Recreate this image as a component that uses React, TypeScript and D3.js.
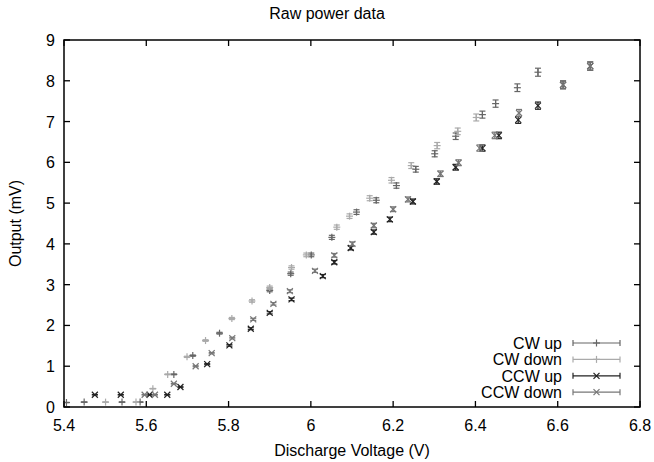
import React, { useEffect, useRef } from 'react';
import * as d3 from 'd3';

// voltage (V), output (mV) for each run
const cwUpX = [5.406, 5.449, 5.541, 5.585, 5.667, 5.713, 5.778, 5.900, 5.951, 6.001, 6.051, 6.111, 6.159, 6.208, 6.255, 6.301, 6.352, 6.417, 6.449, 6.502, 6.552];
const cwUpY = [0.11, 0.12, 0.12, 0.12, 0.80, 1.26, 1.81, 2.86, 3.27, 3.73, 4.16, 4.78, 5.07, 5.43, 5.83, 6.21, 6.64, 7.17, 7.44, 7.83, 8.21];

const cwDownX = [5.501, 5.575, 5.616, 5.652, 5.699, 5.744, 5.808, 5.857, 5.900, 5.953, 5.989, 6.063, 6.094, 6.143, 6.196, 6.244, 6.307, 6.357, 6.402];
const cwDownY = [0.12, 0.12, 0.45, 0.80, 1.23, 1.63, 2.17, 2.60, 2.93, 3.42, 3.73, 4.41, 4.68, 5.12, 5.56, 5.92, 6.41, 6.76, 7.10];

const ccwUpX = [5.475, 5.538, 5.608, 5.651, 5.683, 5.748, 5.802, 5.854, 5.900, 5.953, 6.029, 6.057, 6.097, 6.153, 6.192, 6.248, 6.306, 6.352, 6.417, 6.457, 6.504, 6.552, 6.613, 6.679];
const ccwUpY = [0.30, 0.30, 0.30, 0.30, 0.49, 1.05, 1.51, 1.92, 2.31, 2.64, 3.21, 3.55, 3.90, 4.29, 4.60, 5.04, 5.53, 5.88, 6.35, 6.66, 7.04, 7.39, 7.90, 8.36];

const ccwDownX = [5.596, 5.621, 5.667, 5.720, 5.759, 5.809, 5.860, 5.909, 5.949, 6.010, 6.057, 6.101, 6.153, 6.200, 6.236, 6.315, 6.359, 6.410, 6.447, 6.506, 6.613, 6.679];
const ccwDownY = [0.30, 0.30, 0.57, 1.00, 1.32, 1.69, 2.15, 2.53, 2.84, 3.34, 3.72, 4.00, 4.45, 4.85, 5.09, 5.72, 5.99, 6.35, 6.66, 7.21, 7.90, 8.36];

// relative error of the readings
const errFrac = 0.012;

const xTicks = [5.4, 5.6, 5.8, 6, 6.2, 6.4, 6.6, 6.8];
const yTicks = [0, 1, 2, 3, 4, 5, 6, 7, 8, 9];

const series = [
  { name: 'CW up', xs: cwUpX, ys: cwUpY, marker: 'plus', color: '#666' },
  { name: 'CW down', xs: cwDownX, ys: cwDownY, marker: 'plus', color: '#aaa' },
  { name: 'CCW up', xs: ccwUpX, ys: ccwUpY, marker: 'cross', color: '#222' },
  { name: 'CCW down', xs: ccwDownX, ys: ccwDownY, marker: 'cross', color: '#777' },
];

const App: React.FC = () => {
  const ref = useRef<SVGSVGElement>(null);

  useEffect(() => {
    if (!ref.current) return;
    const svg = d3.select(ref.current);
    svg.selectAll('*').remove();

    const W = 654, H = 462;
    const m = { left: 64, right: 14, top: 40, bottom: 55 };
    const font = '"Liberation Sans", Arial, sans-serif';
    const fs = 16;

    const x = d3.scaleLinear().domain([5.4, 6.8]).range([m.left, W - m.right]);
    const y = d3.scaleLinear().domain([0, 9]).range([H - m.bottom, m.top]);

    const [x0, x1] = x.range();
    const [y0, y1] = y.range();

    // title, centred on the whole canvas
    svg.append('text')
      .attr('x', W / 2)
      .attr('y', 19)
      .attr('text-anchor', 'middle')
      .attr('font-family', font)
      .attr('font-size', 16)
      .text('Raw power data');

    // ticks (inward, mirrored)
    const tk = 6;
    const g = svg.append('g').attr('stroke', '#000').attr('stroke-width', 1.3);
    xTicks.forEach(t => {
      g.append('line').attr('x1', x(t)).attr('x2', x(t)).attr('y1', y0).attr('y2', y0 - tk);
      g.append('line').attr('x1', x(t)).attr('x2', x(t)).attr('y1', y1).attr('y2', y1 + tk);
    });
    yTicks.forEach(t => {
      g.append('line').attr('x1', x0).attr('x2', x0 + tk).attr('y1', y(t)).attr('y2', y(t));
      g.append('line').attr('x1', x1).attr('x2', x1 - tk).attr('y1', y(t)).attr('y2', y(t));
    });

    svg.selectAll('.xl')
      .data(xTicks)
      .enter()
      .append('text')
        .attr('x', d => x(d))
        .attr('y', y0 + 24)
        .attr('text-anchor', 'middle')
        .attr('font-family', font)
        .attr('font-size', fs)
        .text(d => (d === 6 ? '6' : d3.format('.1f')(d)));

    svg.selectAll('.yl')
      .data(yTicks)
      .enter()
      .append('text')
        .attr('x', x0 - 9)
        .attr('y', d => y(d) + 6)
        .attr('text-anchor', 'end')
        .attr('font-family', font)
        .attr('font-size', fs)
        .text(d => String(d));

    svg.append('text')
      .attr('x', (x0 + x1) / 2)
      .attr('y', H - 6)
      .attr('text-anchor', 'middle')
      .attr('font-family', font)
      .attr('font-size', fs)
      .text('Discharge Voltage (V)');

    svg.append('text')
      .attr('transform', `translate(21,${(y0 + y1) / 2}) rotate(-90)`)
      .attr('text-anchor', 'middle')
      .attr('font-family', font)
      .attr('font-size', fs)
      .text('Output (mV)');

    const drawMarker = (sel: any, cx: number, cy: number, kind: string, color: string) => {
      const s = kind === 'plus' ? 3.5 : 3;
      if (kind === 'plus') {
        sel.append('line').attr('x1', cx - s).attr('x2', cx + s).attr('y1', cy).attr('y2', cy).attr('stroke', color);
        sel.append('line').attr('x1', cx).attr('x2', cx).attr('y1', cy - s).attr('y2', cy + s).attr('stroke', color);
      } else {
        sel.append('line').attr('x1', cx - s).attr('x2', cx + s).attr('y1', cy - s).attr('y2', cy + s).attr('stroke', color);
        sel.append('line').attr('x1', cx - s).attr('x2', cx + s).attr('y1', cy + s).attr('y2', cy - s).attr('stroke', color);
      }
    };

    const cap = 3;
    series.forEach(s => {
      const sg = svg.append('g').attr('stroke-width', 1.2);
      s.xs.forEach((v, i) => {
        const val = s.ys[i];
        const e = val * errFrac;
        const cx = x(v);
        const ya = y(val + e), yb = y(val - e);
        sg.append('line').attr('x1', cx).attr('x2', cx).attr('y1', ya).attr('y2', yb).attr('stroke', s.color);
        sg.append('line').attr('x1', cx - cap).attr('x2', cx + cap).attr('y1', ya).attr('y2', ya).attr('stroke', s.color);
        sg.append('line').attr('x1', cx - cap).attr('x2', cx + cap).attr('y1', yb).attr('y2', yb).attr('stroke', s.color);
        drawMarker(sg, cx, y(val), s.marker, s.color);
      });
    });

    // legend
    const lg = svg.append('g');
    series.forEach((s, i) => {
      const ly = 343 + i * 16.4;
      lg.append('text')
        .attr('x', 562)
        .attr('y', ly + 6)
        .attr('text-anchor', 'end')
        .attr('font-family', font)
        .attr('font-size', fs)
        .text(s.name);
      const a = 573, b = 620, c = (a + b) / 2;
      const lgg = lg.append('g').attr('stroke-width', 1.2);
      lgg.append('line').attr('x1', a).attr('x2', b).attr('y1', ly).attr('y2', ly).attr('stroke', s.color);
      lgg.append('line').attr('x1', a).attr('x2', a).attr('y1', ly - 3).attr('y2', ly + 3).attr('stroke', s.color);
      lgg.append('line').attr('x1', b).attr('x2', b).attr('y1', ly - 3).attr('y2', ly + 3).attr('stroke', s.color);
      drawMarker(lgg, c, ly, s.marker, s.color);
    });

    // frame
    svg.append('rect')
      .attr('x', x0)
      .attr('y', y1)
      .attr('width', x1 - x0)
      .attr('height', y0 - y1)
      .attr('fill', 'none')
      .attr('stroke', '#000')
      .attr('stroke-width', 1.5);
  }, []);

  return (
    <svg
      ref={ref}
      width={654}
      height={462}
      style={{ position: 'absolute', left: 0, top: 0, background: '#fff' }}
    />
  );
};

export default App;
